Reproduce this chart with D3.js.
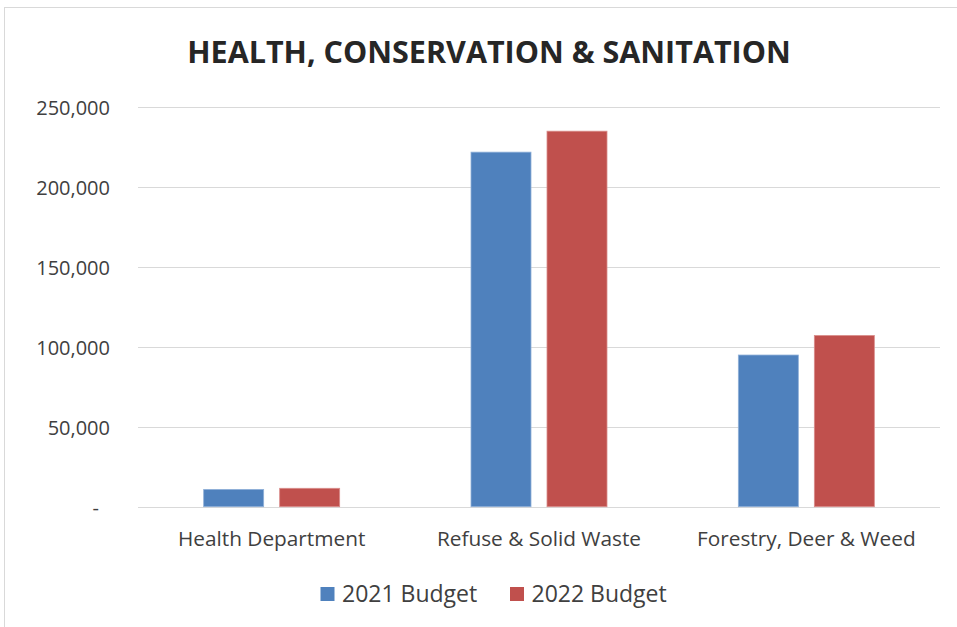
<!DOCTYPE html>
<html>
<head>
<meta charset="utf-8">
<script src="https://cdn.jsdelivr.net/npm/d3@7"></script>
<style>
  html, body { margin: 0; padding: 0; background: #fff; }
  svg { display: block; }
</style>
</head>
<body>
<svg id="chart" width="957" height="627"></svg>
<script>
// Budget figures by department
const categories = ["Health Department", "Refuse & Solid Waste", "Forestry, Deer & Weed"];
const seriesNames = ["2021 Budget", "2022 Budget"];
const budget2021 = [10800, 221600, 94800];
const budget2022 = [11500, 234700, 107000];
const yTicks = [0, 50000, 100000, 150000, 200000, 250000];
const colors = ["#4F81BD", "#C0504D"];
const strokeColors = ["#8fb0d8", "#d98d8b"];

const svg = d3.select("#chart");
const font = "'Open Sans', sans-serif";

// chart frame
svg.append("rect")
  .attr("x", 4.5).attr("y", 7.5)
  .attr("width", 960).attr("height", 630)
  .attr("fill", "#fff")
  .attr("stroke", "#d9d9d9").attr("stroke-width", 1);

const plot = { left: 138, right: 940, top: 106.7, bottom: 506.7 };

const x = d3.scaleBand().domain(categories).range([plot.left, plot.right]);
const x1 = d3.scaleBand().domain(seriesNames).range([0, 136]).paddingInner(0.2105);
const y = d3.scaleLinear().domain([0, 250000]).range([plot.bottom, plot.top]);

// gridlines
svg.append("g")
  .selectAll("line")
  .data(yTicks)
  .join("line")
  .attr("x1", plot.left).attr("x2", plot.right)
  .attr("y1", d => Math.round(y(d)) + 0.5)
  .attr("y2", d => Math.round(y(d)) + 0.5)
  .attr("stroke", "#d9d9d9").attr("stroke-width", 1);

// y axis labels
const fmt = d => d === 0 ? "-" : d3.format(",")(d);
svg.append("g")
  .selectAll("text")
  .data(yTicks)
  .join("text")
  .attr("x", d => d === 0 ? 99 : 110)
  .attr("y", d => y(d) + 8)
  .attr("text-anchor", "end")
  .attr("font-family", font)
  .attr("font-size", 20)
  .attr("fill", "#404040")
  .text(fmt);

// bars
const rows = categories.map((c, i) => ({ c, vals: [budget2021[i], budget2022[i]] }));
const groups = svg.append("g")
  .selectAll("g")
  .data(rows)
  .join("g")
  .attr("transform", d => `translate(${x(d.c) + (x.bandwidth() - 136) / 2},0)`);

groups.selectAll("rect")
  .data(d => d.vals.map((v, j) => ({ v, j })))
  .join("rect")
  .attr("x", d => x1(seriesNames[d.j]))
  .attr("width", x1.bandwidth())
  .attr("y", d => y(d.v))
  .attr("height", d => plot.bottom - y(d.v))
  .attr("fill", d => colors[d.j])
  .attr("stroke", d => strokeColors[d.j])
  .attr("stroke-width", 0.8);

// category labels
svg.append("g")
  .selectAll("text")
  .data(categories)
  .join("text")
  .attr("x", d => x(d) + x.bandwidth() / 2)
  .attr("y", 546)
  .attr("text-anchor", "middle")
  .attr("font-family", font)
  .attr("font-size", 20.8)
  .attr("fill", "#404040")
  .text(d => d);

// title
svg.append("text")
  .attr("x", 489).attr("y", 62.7)
  .attr("text-anchor", "middle")
  .attr("font-family", font)
  .attr("font-weight", "bold")
  .attr("font-size", 30.5)
  .attr("fill", "#262626")
  .text("HEALTH, CONSERVATION & SANITATION");

// legend
const legendX = [320.5, 510];
const legend = svg.append("g")
  .selectAll("g")
  .data(seriesNames)
  .join("g")
  .attr("transform", (d, i) => `translate(${legendX[i]},587)`);
legend.append("rect")
  .attr("width", 14).attr("height", 14)
  .attr("fill", (d, i) => colors[i]);
legend.append("text")
  .attr("x", 21.5).attr("y", 14.5)
  .attr("font-family", font)
  .attr("font-size", 23)
  .attr("fill", "#404040")
  .text(d => d);
</script>
</body>
</html>
